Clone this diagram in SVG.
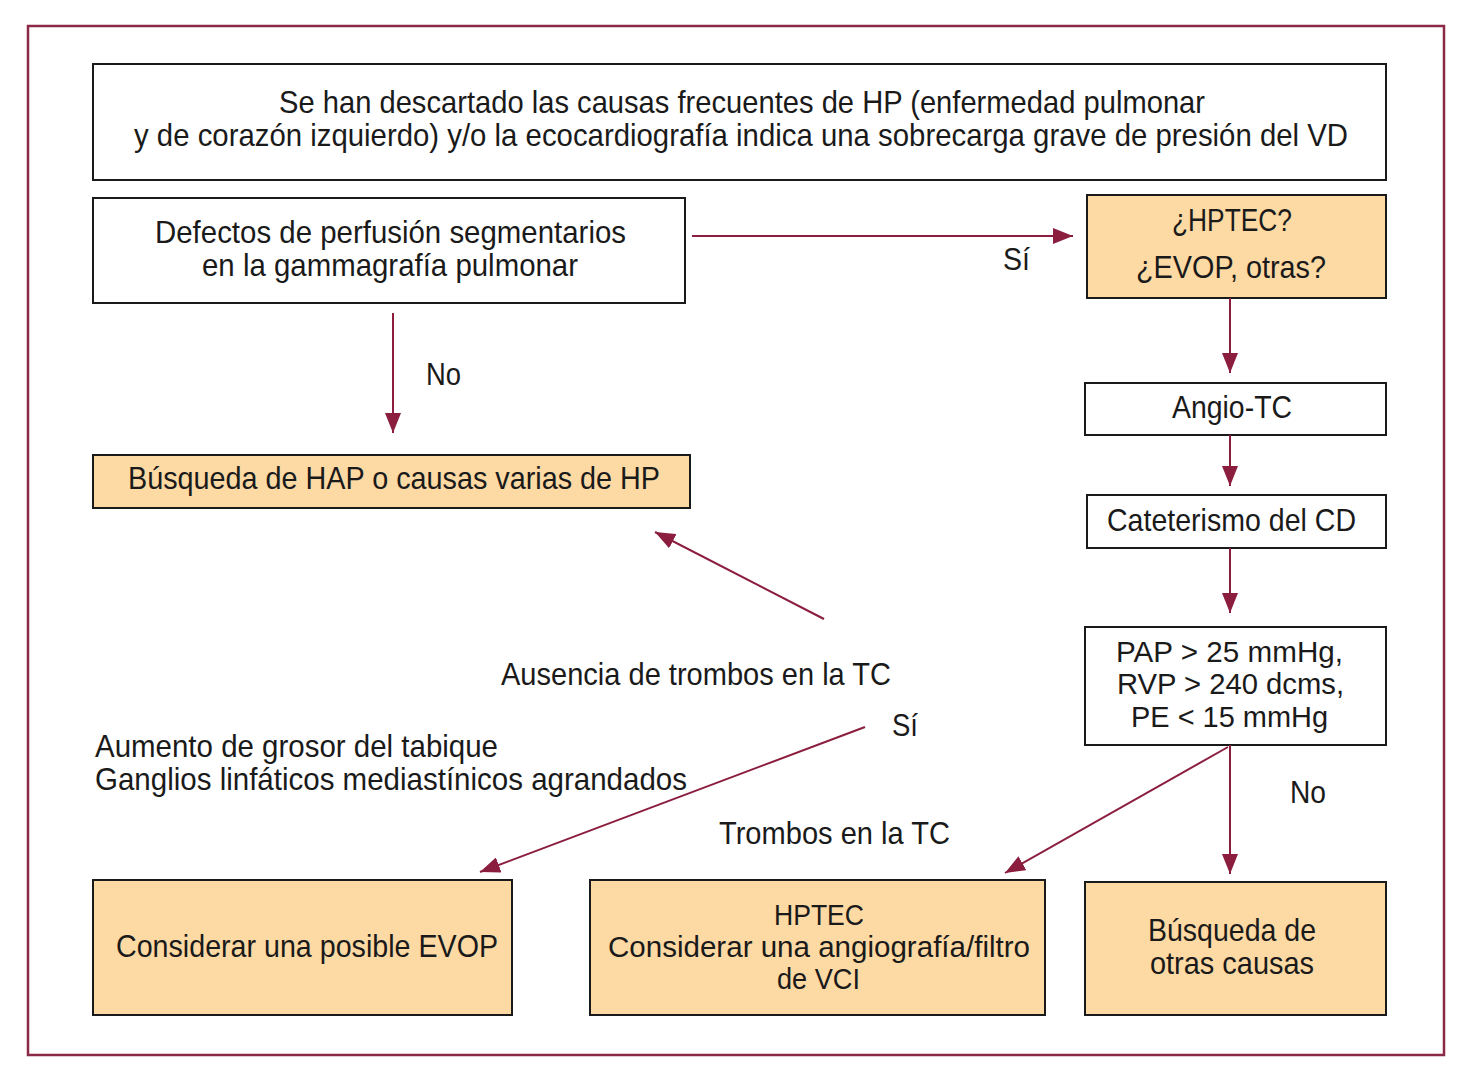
<svg xmlns="http://www.w3.org/2000/svg" width="1470" height="1087" viewBox="0 0 1470 1087">
<defs>
<style>
.box{fill:#fff;stroke:#1a1a1a;stroke-width:2}
.fill{fill:#fdd9a4;stroke:#1a1a1a;stroke-width:2}
text{font-family:"Liberation Sans",Arial,sans-serif;font-size:32px;fill:#1a1a1a}
.t{font-size:29px}
.ln{stroke:#8b1e3f;stroke-width:2;fill:none;marker-end:url(#ah)}
</style>
<marker id="ah" viewBox="0 0 20 16" refX="20" refY="8" markerWidth="20" markerHeight="16" markerUnits="userSpaceOnUse" orient="auto">
<path d="M0,0 L20,8 L0,16 z" fill="#8b1e3f"/>
</marker>
</defs>
<rect x="28" y="26" width="1416" height="1029" fill="#fff" stroke="#8b2a47" stroke-width="2.5"/>

<g id="top"><rect class="box" x="93" y="64" width="1293" height="116"/>
<text x="279" y="113" textLength="926" lengthAdjust="spacingAndGlyphs">Se han descartado las causas frecuentes de HP (enfermedad pulmonar</text>
<text x="134" y="146" textLength="1214" lengthAdjust="spacingAndGlyphs">y de corazón izquierdo) y/o la ecocardiografía indica una sobrecarga grave de presión del VD</text></g>

<g id="defectos"><rect class="box" x="93" y="198" width="592" height="105"/>
<text x="155" y="243" textLength="471" lengthAdjust="spacingAndGlyphs">Defectos de perfusión segmentarios</text>
<text x="202" y="276" textLength="376" lengthAdjust="spacingAndGlyphs">en la gammagrafía pulmonar</text></g>

<g id="hptecq"><rect class="fill" x="1087" y="195" width="299" height="103"/>
<text x="1172" y="231" textLength="120" lengthAdjust="spacingAndGlyphs">¿HPTEC?</text>
<text x="1136" y="278" textLength="190" lengthAdjust="spacingAndGlyphs">¿EVOP, otras?</text></g>

<g id="hap"><rect class="fill" x="93" y="455" width="597" height="53"/>
<text x="128" y="489" textLength="532" lengthAdjust="spacingAndGlyphs">Búsqueda de HAP o causas varias de HP</text></g>

<g id="angio"><rect class="box" x="1085" y="383" width="301" height="52"/>
<text x="1172" y="418" textLength="120" lengthAdjust="spacingAndGlyphs">Angio-TC</text></g>

<g id="cat"><rect class="box" x="1087" y="495" width="299" height="53"/>
<text x="1107" y="531" textLength="249" lengthAdjust="spacingAndGlyphs">Cateterismo del CD</text></g>

<g id="pap"><rect class="box" x="1085" y="627" width="301" height="118"/>
<text class="t" x="1116" y="662" textLength="227" lengthAdjust="spacingAndGlyphs">PAP &gt; 25 mmHg,</text>
<text class="t" x="1117" y="694" textLength="227" lengthAdjust="spacingAndGlyphs">RVP &gt; 240 dcms,</text>
<text class="t" x="1131" y="727" textLength="197" lengthAdjust="spacingAndGlyphs">PE &lt; 15 mmHg</text></g>

<g id="evop"><rect class="fill" x="93" y="880" width="419" height="135"/>
<text x="116" y="957" textLength="382" lengthAdjust="spacingAndGlyphs">Considerar una posible EVOP</text></g>

<g id="hptec"><rect class="fill" x="590" y="880" width="455" height="135"/>
<text class="t" x="774" y="925" textLength="90" lengthAdjust="spacingAndGlyphs">HPTEC</text>
<text class="t" x="608" y="957" textLength="422" lengthAdjust="spacingAndGlyphs">Considerar una angiografía/filtro</text>
<text class="t" x="777" y="989" textLength="83" lengthAdjust="spacingAndGlyphs">de VCI</text></g>

<g id="otras"><rect class="fill" x="1085" y="882" width="301" height="133"/>
<text x="1148" y="941" textLength="168" lengthAdjust="spacingAndGlyphs">Búsqueda de</text>
<text x="1150" y="974" textLength="164" lengthAdjust="spacingAndGlyphs">otras causas</text></g>

<g id="labels">
<text x="1003" y="270" textLength="27" lengthAdjust="spacingAndGlyphs">Sí</text>
<text x="426" y="385" textLength="35" lengthAdjust="spacingAndGlyphs">No</text>
<text x="1290" y="803" textLength="36" lengthAdjust="spacingAndGlyphs">No</text>
<text x="501" y="685" textLength="390" lengthAdjust="spacingAndGlyphs">Ausencia de trombos en la TC</text>
<text x="892" y="736" textLength="26" lengthAdjust="spacingAndGlyphs">Sí</text>
<text x="95" y="757" textLength="403" lengthAdjust="spacingAndGlyphs">Aumento de grosor del tabique</text>
<text x="95" y="790" textLength="592" lengthAdjust="spacingAndGlyphs">Ganglios linfáticos mediastínicos agrandados</text>
<text x="719" y="844" textLength="231" lengthAdjust="spacingAndGlyphs">Trombos en la TC</text>
</g>

<g id="connectors">
<line class="ln" x1="692" y1="236" x2="1073" y2="236"/>
<line class="ln" x1="393" y1="313" x2="393" y2="433"/>
<line class="ln" x1="1230" y1="298" x2="1230" y2="373"/>
<line class="ln" x1="1230" y1="435" x2="1230" y2="486"/>
<line class="ln" x1="1230" y1="548" x2="1230" y2="613"/>
<line class="ln" x1="1230" y1="745" x2="1230" y2="874"/>
<line class="ln" x1="1228" y1="747" x2="1005" y2="873"/>
<line class="ln" x1="824" y1="619" x2="655" y2="532"/>
<line class="ln" x1="865" y1="727" x2="480" y2="872"/>
</g>
</svg>
